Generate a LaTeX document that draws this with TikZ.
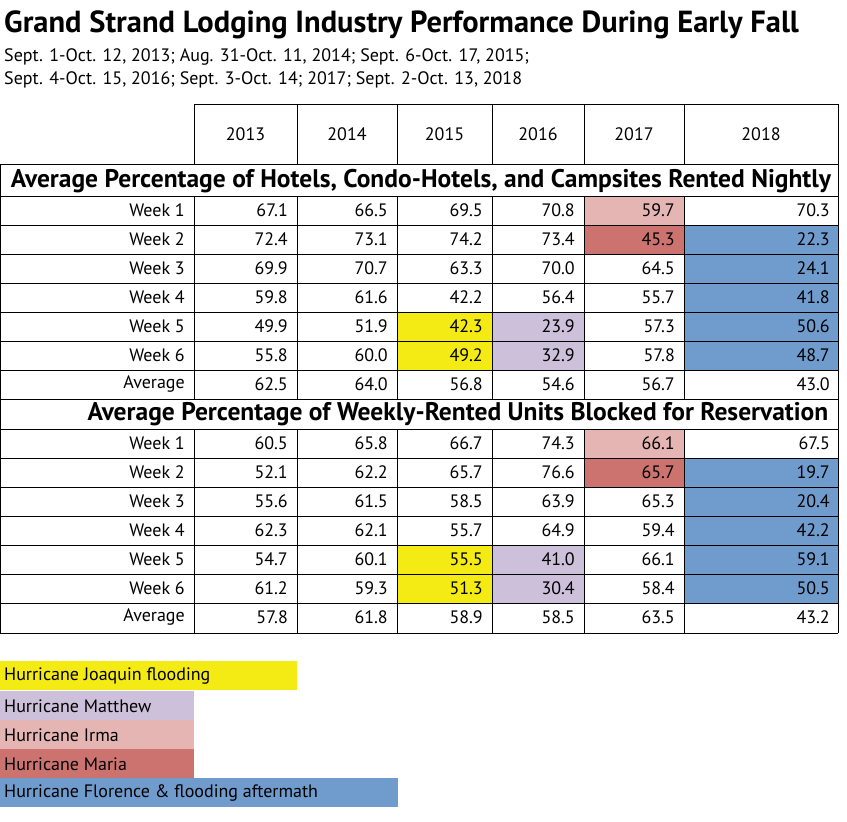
\documentclass[tikz,border=0pt]{standalone}
\usepackage{fontspec}
\setmainfont{PT Sans}
\definecolor{joaquin}{HTML}{F5EB14}
\definecolor{matthew}{HTML}{CDC0DA}
\definecolor{irma}{HTML}{E5B5B3}
\definecolor{maria}{HTML}{CC7370}
\definecolor{florence}{HTML}{709BCD}
\tikzset{
  cell/.style={anchor=east, inner sep=0pt, font=\fontsize{18}{20}\selectfont},
  head/.style={inner sep=0pt, font=\fontsize{18}{20}\selectfont},
  sect/.style={inner sep=0pt, font=\fontsize{25.5}{27}\selectfont\bfseries},
  legend/.style={anchor=west, inner sep=0pt, font=\fontsize{18}{20}\selectfont},
  grid/.style={line width=1pt}
}
\begin{document}
\begin{tikzpicture}[x=1pt,y=-1pt]
\useasboundingbox (0,0) rectangle (847,822);
% highlighted cells
\foreach \t in {196,429}{
  \fill[joaquin] (397,\t+116) rectangle (492,\t+174);
  \fill[matthew] (492,\t+116) rectangle (584,\t+174);
  \fill[irma] (584,\t) rectangle (684,\t+29);
  \fill[maria] (584,\t+29) rectangle (684,\t+58);
  \fill[florence] (684,\t+29) rectangle (838,\t+174);
}
% title
\node[anchor=west, inner sep=0pt, font=\fontsize{30.5}{32}\selectfont\bfseries] (title) at (4,25) {Grand Strand Lodging Industry Performance During Early Fall};
\node[anchor=west, inner sep=0pt, font=\fontsize{18}{20}\selectfont] (sub1) at (4,57) {Sept. 1-Oct. 12, 2013; Aug. 31-Oct. 11, 2014; Sept. 6-Oct. 17, 2015;};
\node[anchor=west, inner sep=0pt, font=\fontsize{18}{20}\selectfont] (sub2) at (4,80) {Sept. 4-Oct. 15, 2016; Sept. 3-Oct. 14; 2017; Sept. 2-Oct. 13, 2018};
% grid
\draw[grid] (194,104) -- (838,104);
\foreach \y in {164,196,225,254,283,312,341,370,399,429,458,487,516,545,574,603,633}
  \draw[grid] (0,\y) -- (838,\y);
\foreach \x in {194,297,397,492,584,684}{
  \draw[grid] (\x,104) -- (\x,164);
  \draw[grid] (\x,196) -- (\x,399);
  \draw[grid] (\x,429) -- (\x,633);
}
\draw[grid] (838,104) -- (838,633);
\draw[grid] (0,164) -- (0,633);
% column heads
\foreach \yr/\cx in {2013/245.5,2014/347,2015/444.5,2016/538,2017/634,2018/761}
  \node[head] (h\yr) at (\cx,134) {\yr};
% section titles
\node[sect] (secA) at (421,181) {Average Percentage of Hotels, Condo-Hotels, and Campsites Rented Nightly};
\node[sect] (secB) at (458,414) {Average Percentage of Weekly-Rented Units Blocked for Reservation};
% rows of first section
\foreach \lab/\a/\b/\c/\d/\e/\f [count=\i] in {
  Week 1/67.1/66.5/69.5/70.8/59.7/70.3,
  Week 2/72.4/73.1/74.2/73.4/45.3/22.3,
  Week 3/69.9/70.7/63.3/70.0/64.5/24.1,
  Week 4/59.8/61.6/42.2/56.4/55.7/41.8,
  Week 5/49.9/51.9/42.3/23.9/57.3/50.6,
  Week 6/55.8/60.0/49.2/32.9/57.8/48.7,
  Average/62.5/64.0/56.8/54.6/56.7/43.0}{
  \pgfmathsetmacro{\ry}{196+29*\i-14.5}
  \node[cell] (a\i l) at (185,\ry) {\lab};
  \node[cell] (a\i a) at (288,\ry) {\a};
  \node[cell] (a\i b) at (388,\ry) {\b};
  \node[cell] (a\i c) at (483,\ry) {\c};
  \node[cell] (a\i d) at (575,\ry) {\d};
  \node[cell] (a\i e) at (675,\ry) {\e};
  \node[cell] (a\i f) at (830,\ry) {\f};
}
% rows of second section
\foreach \lab/\a/\b/\c/\d/\e/\f [count=\i] in {
  Week 1/60.5/65.8/66.7/74.3/66.1/67.5,
  Week 2/52.1/62.2/65.7/76.6/65.7/19.7,
  Week 3/55.6/61.5/58.5/63.9/65.3/20.4,
  Week 4/62.3/62.1/55.7/64.9/59.4/42.2,
  Week 5/54.7/60.1/55.5/41.0/66.1/59.1,
  Week 6/61.2/59.3/51.3/30.4/58.4/50.5,
  Average/57.8/61.8/58.9/58.5/63.5/43.2}{
  \pgfmathsetmacro{\ry}{429+29*\i-14.5}
  \node[cell] (b\i l) at (185,\ry) {\lab};
  \node[cell] (b\i a) at (288,\ry) {\a};
  \node[cell] (b\i b) at (388,\ry) {\b};
  \node[cell] (b\i c) at (483,\ry) {\c};
  \node[cell] (b\i d) at (575,\ry) {\d};
  \node[cell] (b\i e) at (675,\ry) {\e};
  \node[cell] (b\i f) at (830,\ry) {\f};
}
% legend
\foreach \col/\w/\top/\txt in {
  joaquin/297/661/Hurricane Joaquin flooding,
  matthew/194/691/Hurricane Matthew,
  irma/194/720/Hurricane Irma,
  maria/194/749/Hurricane Maria,
  florence/398/778/Hurricane Florence \& flooding aftermath}{
  \fill[\col] (0,\top) rectangle (\w,\top+29);
  \node[legend] (leg\col) at (4,\top+15) {\txt};
}
\end{tikzpicture}
\end{document}
